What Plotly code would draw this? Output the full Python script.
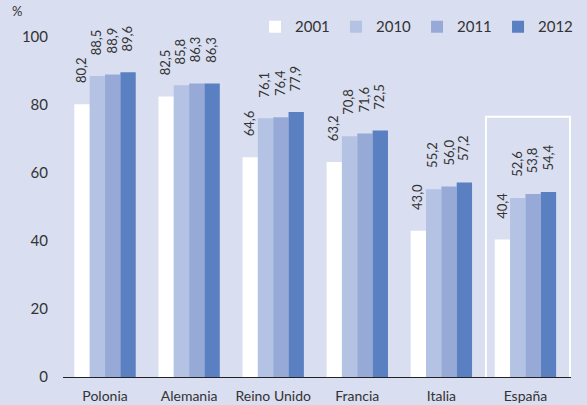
import plotly.graph_objects as go

categories = ["Polonia", "Alemania", "Reino Unido", "Francia", "Italia", "España"]
years = ["2001", "2010", "2011", "2012"]
v2001 = [80.2, 82.5, 64.6, 63.2, 43.0, 40.4]
v2010 = [88.5, 85.8, 76.1, 70.8, 55.2, 52.6]
v2011 = [88.9, 86.3, 76.4, 71.6, 56.0, 53.8]
v2012 = [89.6, 86.3, 77.9, 72.5, 57.2, 54.4]
series = [v2001, v2010, v2011, v2012]
colors = ["#FFFFFF", "#B4C2E3", "#97AAD7", "#5A80C2"]

bg = "#D9DEF0"
W, H = 587, 405
ml, mr, mt, mb = 63, 16, 10, 28
bargap = 0.27
fig = go.Figure()
for name, vals, col in zip(years, series, colors):
    fig.add_trace(go.Bar(
        x=categories, y=vals, name=name,
        marker=dict(color=col, line=dict(width=0)),
        hoverinfo="skip",
    ))

# value labels: rotated, placed above each bar
cat_px = (W - ml - mr) / len(categories)
bar_px = cat_px * (1 - bargap) / len(series)
for i, vals in enumerate(series):
    off = (i - (len(series) - 1) / 2) * bar_px
    for c, v in zip(categories, vals):
        fig.add_annotation(
            x=c, y=v, xref="x", yref="y",
            text=f"{v:.1f}".replace(".", ","),
            textangle=-90, showarrow=False,
            xanchor="center", yanchor="bottom",
            xshift=off - 1, yshift=19,
            font=dict(size=13, color="#333333"),
        )

fig.update_layout(
    width=W, height=H,
    paper_bgcolor=bg, plot_bgcolor=bg,
    margin=dict(l=ml, r=mr, t=mt, b=mb, autoexpand=False),
    barmode="group", bargap=bargap, bargroupgap=0,
    font=dict(family="Lato, 'Open Sans', sans-serif", color="#333333", size=14),
    showlegend=True,
    legend=dict(orientation="h", x=0.378, xanchor="left", y=0.954, yanchor="middle",
                font=dict(size=15), entrywidth=36, bgcolor="rgba(0,0,0,0)",
                traceorder="normal"),
)
fig.update_yaxes(range=[0, 107.9], tickvals=[0, 20, 40, 60, 80, 100],
                 showgrid=False, zeroline=False, showline=False,
                 ticks="", ticklabelstandoff=14, tickfont=dict(size=15))
fig.update_xaxes(showline=True, linecolor="#222222", linewidth=1,
                 ticks="", tickfont=dict(size=14), showgrid=False,
                 ticklabelstandoff=6)
fig.add_annotation(text="%", xref="paper", yref="paper", x=-0.104, y=0.97,
                   xanchor="left", yanchor="bottom", showarrow=False,
                   font=dict(size=13))
fig.add_shape(type="rect", xref="x", yref="y", x0=4.53, x1=5.53, y0=-12, y1=76.5,
              line=dict(color="white", width=2), layer="above")
fig.write_html("out.html", post_script="document.body.style.margin='0';",
               config={"displayModeBar": False})
